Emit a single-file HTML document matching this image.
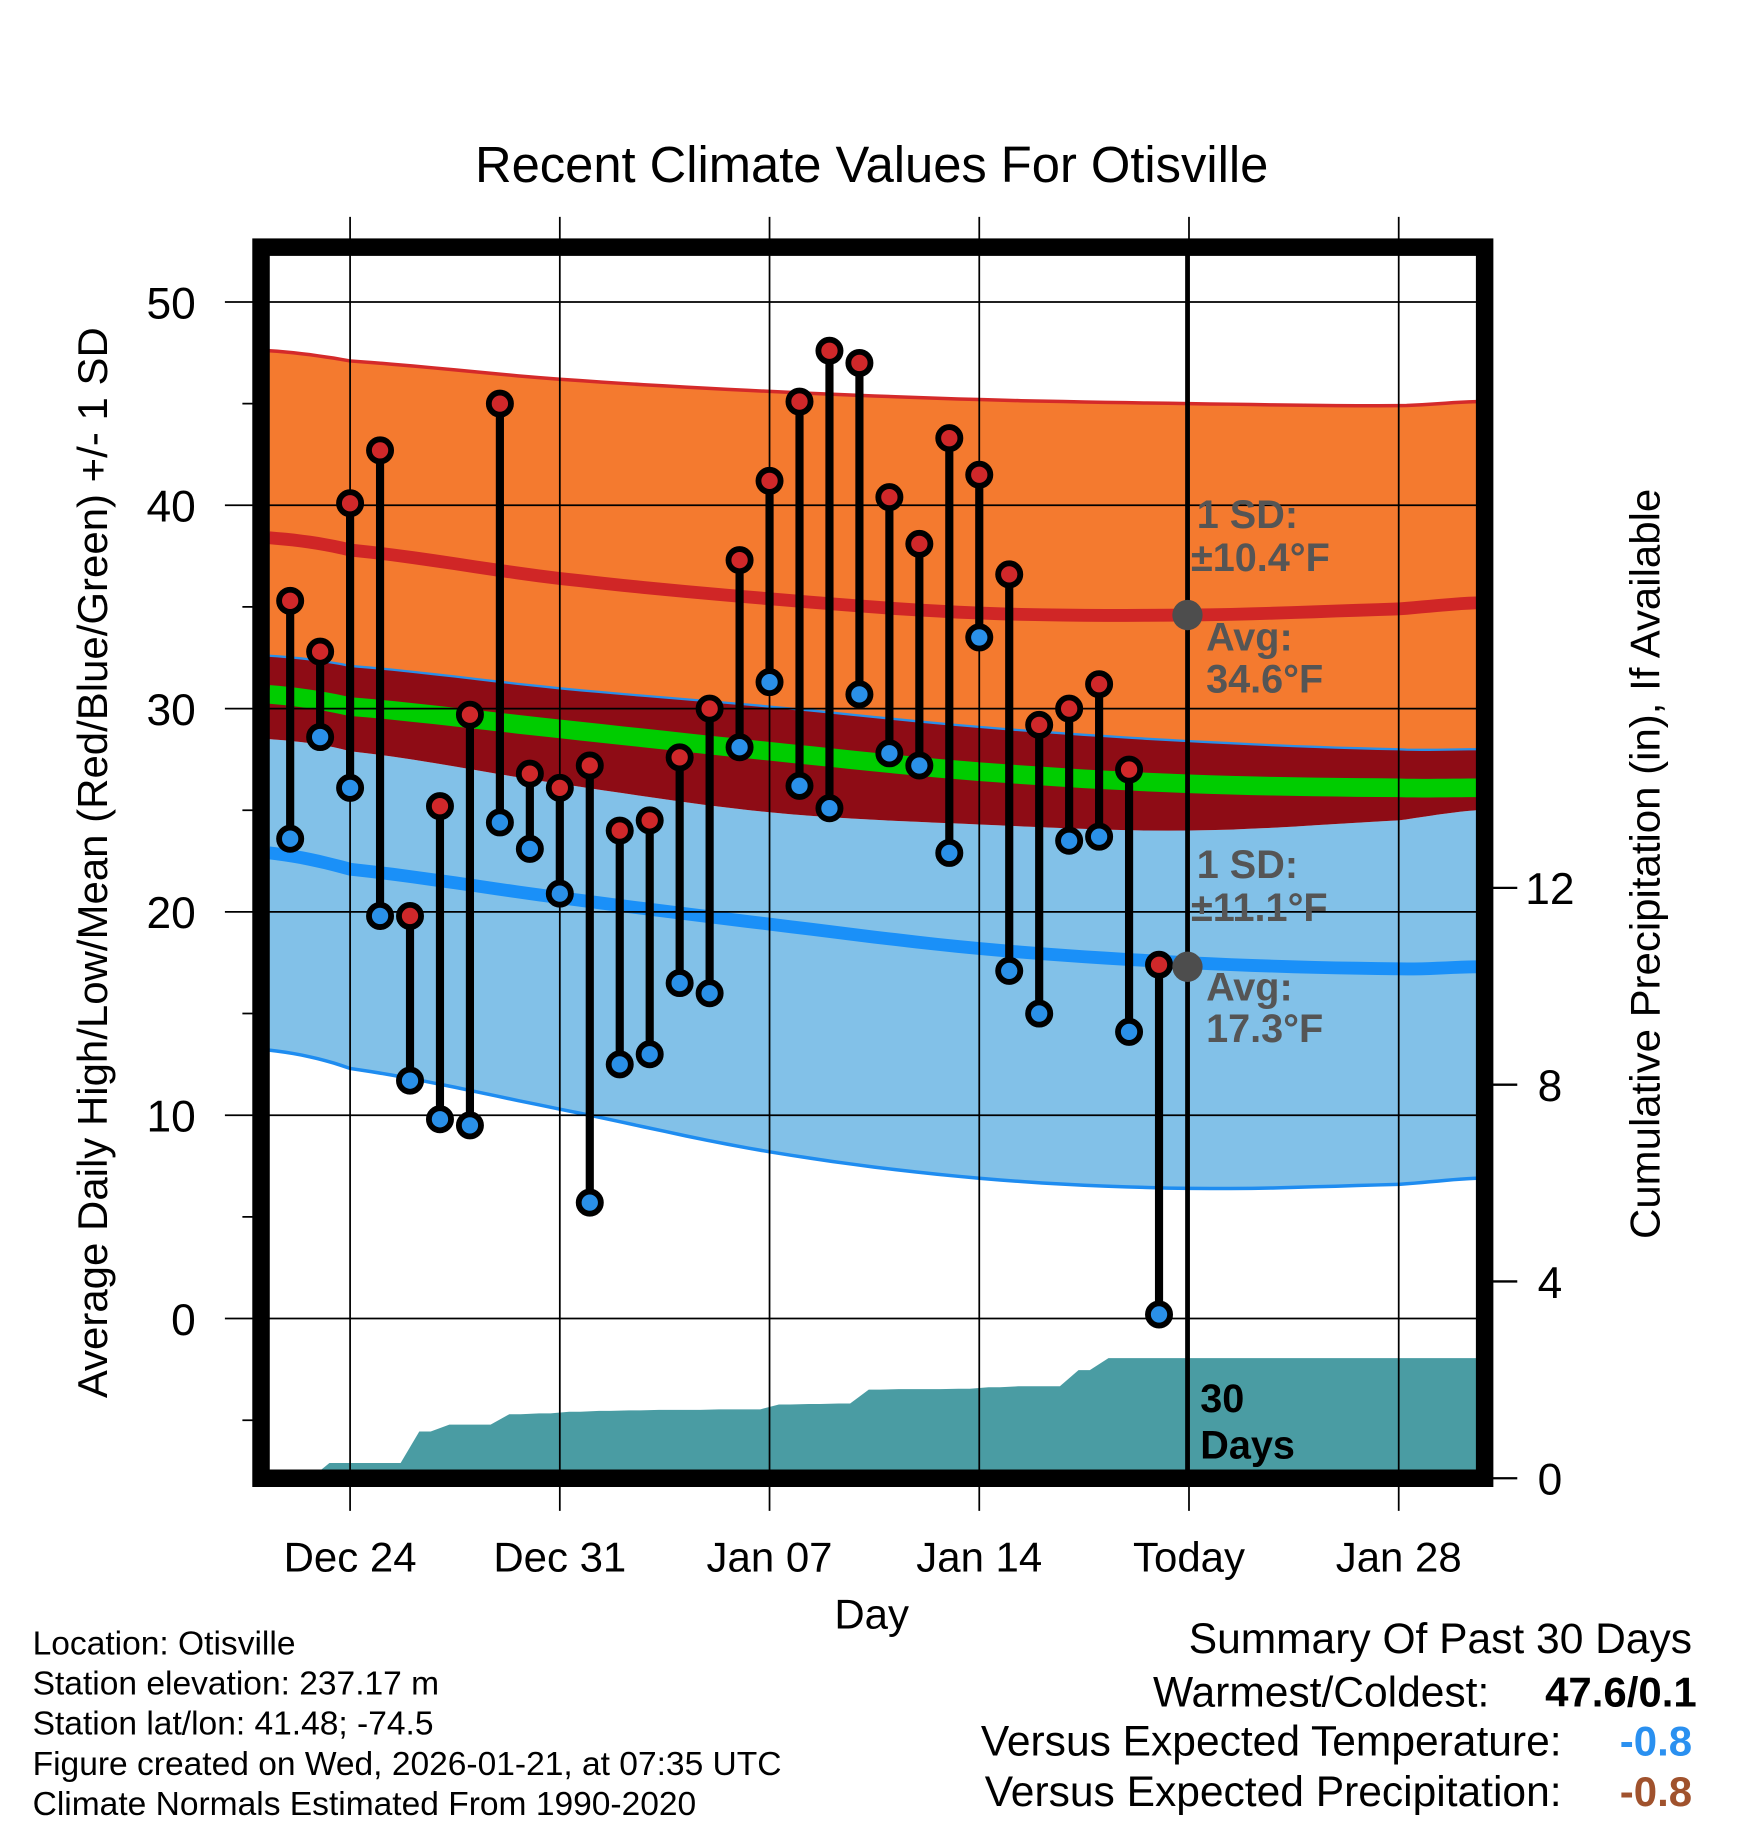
<!DOCTYPE html>
<html><head><meta charset="utf-8"><style>
html,body{margin:0;padding:0;background:#fff;}
svg{display:block;font-family:"Liberation Sans",Arial,sans-serif;}
</style></head><body>
<svg id="chart" width="1748" height="1828" viewBox="0 0 1500 1568" preserveAspectRatio="none" xmlns="http://www.w3.org/2000/svg">
<g id="bands"></g>
<g id="precip"></g>
<g id="grid"></g>
<g id="marks"></g>
<g id="frame"></g>
<g id="texts"></g>
</svg>
<script>
// ---- data ----
const dayLabels = ["Dec 24","Dec 31","Jan 07","Jan 14","Today","Jan 28"];
const dayLabelIdx = [2,9,16,23,30,37];
const highs = [35.3,32.8,40.1,42.7,19.8,25.2,29.7,45.0,26.8,26.1,27.2,24.0,24.5,27.6,30.0,37.3,41.2,45.1,47.6,47.0,40.4,38.1,43.3,41.5,36.6,29.2,30.0,31.2,27.0,17.4];
const lows = [23.6,28.6,26.1,19.8,11.7,9.8,9.5,24.4,23.1,20.9,5.7,12.5,13.0,16.5,16.0,28.1,31.3,26.2,25.1,30.7,27.8,27.2,22.9,33.5,17.1,15.0,23.5,23.7,14.1,0.2];
const precip = [0,0.31,0.31,0.31,0.95,1.09,1.09,1.3,1.32,1.35,1.37,1.38,1.39,1.39,1.40,1.40,1.5,1.51,1.52,1.8,1.81,1.81,1.82,1.85,1.87,1.87,2.2,2.44,2.44,2.44];
const normDays = [-0.7,2,9,16,23,30,37,39.6];
const highPlus = [47.6,47.1,46.2,45.6,45.2,45.0,44.9,45.1];
const highMean = [38.4,37.8,36.4,35.4,34.7,34.6,34.9,35.2];
const highMinus = [32.6,32.1,31.0,30.1,29.1,28.4,28.0,28.0];
const meanTemp = [30.7,30.1,29.0,27.9,26.9,26.3,26.1,26.1];
const lowPlus = [28.5,27.9,26.3,24.9,24.3,24.0,24.5,25.0];
const lowMean = [22.9,22.1,20.7,19.4,18.2,17.5,17.2,17.3];
const lowMinus = [13.2,12.3,10.3,8.2,6.9,6.4,6.6,6.9];
const yTicks = [0,10,20,30,40,50];
const precipTicks = [0,4,8,12];

// ---- axes ----
const X0=231,X1=1267,Y0=212,Y1=1268;
const xs = d => 249 + d*25.71;
const ys = v => 1131 - v*17.44;
const yp = p => 1268 - p*42.2;
const NS="http://www.w3.org/2000/svg";
function el(tag,attrs,parent,text){const e=document.createElementNS(NS,tag);for(const k in attrs)e.setAttribute(k,attrs[k]);if(text!==undefined)e.textContent=text;parent.appendChild(e);return e;}
const bands=document.getElementById('bands'),grid=document.getElementById('grid'),marks=document.getElementById('marks'),frame=document.getElementById('frame'),texts=document.getElementById('texts'),pg=document.getElementById('precip');

// smooth sampling (Catmull-Rom in value space)
function sample(arr){const out=[];const n=normDays.length;
 for(let i=0;i<n-1;i++){const p0=arr[Math.max(0,i-1)],p1=arr[i],p2=arr[i+1],p3=arr[Math.min(n-1,i+2)];
  for(let s=0;s<10;s++){const t=s/10;const v=0.5*((2*p1)+(-p0+p2)*t+(2*p0-5*p1+4*p2-p3)*t*t+(-p0+3*p1-3*p2+p3)*t*t*t);
   out.push([xs(normDays[i]+(normDays[i+1]-normDays[i])*t),ys(v)]);}}
 out.push([xs(normDays[n-1]),ys(arr[n-1])]);return out;}
function line(arr){return sample(arr).map((p,i)=>(i?'L':'M')+p[0].toFixed(1)+','+p[1].toFixed(1)).join(' ');}
function band(top,bot){let p=line(top);const b=sample(bot).reverse();b.forEach(q=>p+=' L'+q[0].toFixed(1)+','+q[1].toFixed(1));return p+' Z';}
let e;
e=el('path',{d:band(highPlus,highMinus),fill:'#f47a2f'},bands);

e=el('path',{d:band(lowPlus,lowMinus),fill:'#82c1e8'},bands);

e=el('path',{d:band(highMinus,lowPlus),fill:'#8e0c15'},bands);

e=el('path',{d:line(highPlus),fill:'none',stroke:'#d42a2a','stroke-width':3},bands);

e=el('path',{d:line(highMinus),fill:'none',stroke:'#2a8fe8','stroke-width':2},bands);

e=el('path',{d:line(lowMinus),fill:'none',stroke:'#1e8cf0','stroke-width':3},bands);

e=el('path',{d:line(meanTemp),fill:'none',stroke:'#00cc00','stroke-width':16},bands);

e=el('path',{d:line(highMean),fill:'none',stroke:'#d02626','stroke-width':11},bands);

e=el('path',{d:line(lowMean),fill:'none',stroke:'#1a90f8','stroke-width':11},bands);


// precip step area
let pp='M'+X0+','+Y1;
precip.forEach((p,i)=>{const x=xs(i);pp+=' L'+Math.max(X0,x-8).toFixed(1)+','+yp(i?precip[i-1]:0).toFixed(1)+' L'+(x+8).toFixed(1)+','+yp(p).toFixed(1);});
pp+=' L'+X1+','+yp(precip[precip.length-1]).toFixed(1)+' L'+X1+','+Y1+' Z';
e=el('path',{d:pp,fill:'#4a9ca3'},pg);


// grid
yTicks.forEach(v=>{const y=ys(v);
 e=el('line',{x1:193,x2:X1,y1:y,y2:y,stroke:'#000','stroke-width':1.5},grid);
 
 e=el('text',{x:168,y:y+14,'font-size':38,'text-anchor':'end'},texts,String(v));
 
});
[-5,5,15,25,35,45].forEach(v=>{const y=ys(v);
 e=el('line',{x1:208,x2:224,y1:y,y2:y,stroke:'#000','stroke-width':1.5},grid);
 });
dayLabelIdx.forEach((d,i)=>{const x=xs(d);
 e=el('line',{x1:x,x2:x,y1:186,y2:1296,stroke:'#000','stroke-width':1.5},grid);
 
 e=el('text',{x:x,y:1348,'font-size':36,'text-anchor':'middle'},texts,dayLabels[i]);
 
});
precipTicks.forEach(p=>{const y=yp(p);
 e=el('line',{x1:1274,x2:1302,y1:y,y2:y,stroke:'#000','stroke-width':2},grid);
 
 e=el('text',{x:1330,y:y+14,'font-size':38,'text-anchor':'middle'},texts,String(p));
 
});
// today line
e=el('line',{x1:1019,x2:1019,y1:Y0,y2:Y1,stroke:'#000','stroke-width':4},grid);


// marks
highs.forEach((h,i)=>{const x=xs(i);
 e=el('line',{x1:x,x2:x,y1:ys(h),y2:ys(lows[i]),stroke:'#000','stroke-width':7},marks);
 
});
highs.forEach((h,i)=>{const x=xs(i);
 e=el('circle',{cx:x,cy:ys(h),r:9.5,fill:'#d0282a',stroke:'#000','stroke-width':5},marks);
 
 e=el('circle',{cx:x,cy:ys(lows[i]),r:9.5,fill:'#2a90e8',stroke:'#000','stroke-width':5},marks);
 
});
e=el('circle',{cx:1019,cy:ys(34.6),r:13,fill:'#4d4d4d'},marks);

e=el('circle',{cx:1019,cy:ys(17.3),r:13,fill:'#4d4d4d'},marks);


// frame
e=el('rect',{x:224,y:212,width:1050,height:1056,fill:'none',stroke:'#000','stroke-width':15},frame);


// texts
function t(x,y,s,size,attrs,name){const a=Object.assign({x:x,y:y,'font-size':size},attrs||{});const n=el('text',a,texts,s);return n;}
t(748,156,'Recent Climate Values For Otisville',43.5,{'text-anchor':'middle'},'chart-title');
t(748,1397,'Day',36,{'text-anchor':'middle'},'x-axis-title');
t(0,0,'Average Daily High/Low/Mean (Red/Blue/Green) +/- 1 SD',36,{'text-anchor':'middle',transform:'translate(92,740) rotate(-90)'},'y-axis-title');
t(0,0,'Cumulative Precipitation (in), If Available',36,{'text-anchor':'middle',transform:'translate(1424,741) rotate(-90)'},'precip-axis-title');
const g='#555';
const fs=34;
t(1027,453,'1 SD:',fs,{fill:g,'font-weight':'bold'},'high-sd-label');
t(1022,490,'±10.4°F',fs,{fill:g,'font-weight':'bold'},'high-sd-value');
t(1035,558,'Avg:',fs,{fill:g,'font-weight':'bold'},'high-avg-label');
t(1035,594,'34.6°F',fs,{fill:g,'font-weight':'bold'},'high-avg-value');
t(1027,753,'1 SD:',fs,{fill:g,'font-weight':'bold'},'low-sd-label');
t(1022,790,'±11.1°F',fs,{fill:g,'font-weight':'bold'},'low-sd-value');
t(1035,858,'Avg:',fs,{fill:g,'font-weight':'bold'},'low-avg-label');
t(1035,894,'17.3°F',fs,{fill:g,'font-weight':'bold'},'low-avg-value');
t(1030,1211,'30',34,{'font-weight':'bold'},'days-count');
t(1030,1251,'Days',34,{'font-weight':'bold'},'days-label');
const info=['Location: Otisville','Station elevation: 237.17 m','Station lat/lon: 41.48; -74.5','Figure created on Wed, 2026-01-21, at 07:35 UTC','Climate Normals Estimated From 1990-2020'];
info.forEach((s,i)=>t(28,1419+i*34.5,s,28.8,{},'station-info-line'));
t(1452,1418,'Summary Of Past 30 Days',36.5,{'text-anchor':'end'},'summary-title');
t(1278,1464,'Warmest/Coldest:',36.5,{'text-anchor':'end'},'warmest-coldest-label');
t(1456,1464,'47.6/0.1',36,{'text-anchor':'end','font-weight':'bold'},'warmest-coldest-value');
t(1340,1506,'Versus Expected Temperature:',36.5,{'text-anchor':'end'},'temp-departure-label');
t(1452,1506,'-0.8',36,{'text-anchor':'end','font-weight':'bold',fill:'#2a90f0'},'temp-departure-value');
t(1340,1549,'Versus Expected Precipitation:',36.5,{'text-anchor':'end'},'precip-departure-label');
t(1452,1549,'-0.8',36,{'text-anchor':'end','font-weight':'bold',fill:'#a0522d'},'precip-departure-value');
</script>
</body></html>
